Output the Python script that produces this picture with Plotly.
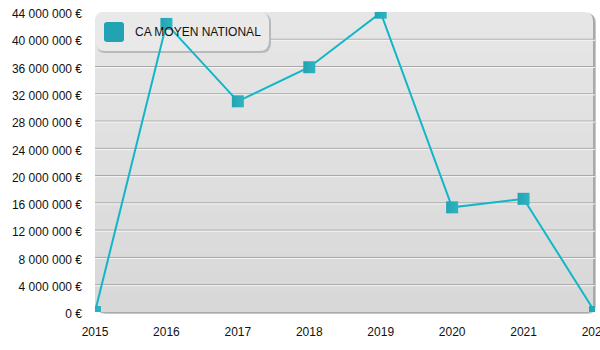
import plotly.graph_objects as go

# Chiffre d'affaires moyen national par année
years = [2015, 2016, 2017, 2018, 2019, 2020, 2021, 2022]
ca_moyen = [0, 42_250_000, 30_900_000, 35_900_000, 43_900_000, 15_350_000, 16_600_000, 0]
series_name = "CA MOYEN NATIONAL"

y_tick_values = [0, 4_000_000, 8_000_000, 12_000_000, 16_000_000, 20_000_000,
                 24_000_000, 28_000_000, 32_000_000, 36_000_000, 40_000_000, 44_000_000]
y_tick_labels = [f"{v:,}".replace(",", " ") + " €" for v in y_tick_values]
x_tick_labels = [str(y) for y in years]

W, H = 600, 350
M_L, M_R, M_T, M_B = 95, 5, 12, 38
PW, PH = W - M_L - M_R, H - M_T - M_B

LINE_COLOR = "#13b6c7"
MARKER_COLOR = "#21a3b3"


def px(x):
    return (x - M_L) / PW


def py(y):
    return (M_T + PH - y) / PH


def rounded_path(x0, y0, x1, y1, r_top, r_bot):
    """Rounded rectangle given in page pixels, returned as a paper-space SVG path."""
    pts = []
    pts.append(f"M {px(x0 + r_top)},{py(y0)}")
    pts.append(f"L {px(x1 - r_top)},{py(y0)}")
    pts.append(f"Q {px(x1)},{py(y0)} {px(x1)},{py(y0 + r_top)}")
    pts.append(f"L {px(x1)},{py(y1 - r_bot)}")
    pts.append(f"Q {px(x1)},{py(y1)} {px(x1 - r_bot)},{py(y1)}")
    pts.append(f"L {px(x0 + r_bot)},{py(y1)}")
    pts.append(f"Q {px(x0)},{py(y1)} {px(x0)},{py(y1 - r_bot)}")
    pts.append(f"L {px(x0)},{py(y0 + r_top)}")
    pts.append(f"Q {px(x0)},{py(y0)} {px(x0 + r_top)},{py(y0)}")
    pts.append("Z")
    return " ".join(pts)


def mix(c0, c1, t):
    return "#" + "".join(f"{round(a + (b - a) * t):02x}" for a, b in zip(c0, c1))


shapes = []

# plot area: soft drop shadow then a vertical grey gradient with rounded corners
x0, y0, x1, y1 = M_L, M_T, M_L + PW - 2, M_T + PH
R = 9
shapes.append(dict(type="path", xref="paper", yref="paper", layer="below",
                   path=rounded_path(x0 + 2, y0 + 2, x1 + 3, y1 + 2, R, R),
                   fillcolor="#c8c8c8", line=dict(width=0)))
shapes.append(dict(type="path", xref="paper", yref="paper", layer="below",
                   path=rounded_path(x0 + 1, y0 + 1, x1 + 2, y1 + 1, R, R),
                   fillcolor="#a9a9a9", line=dict(width=0)))
top_c, bot_c = (0xe6, 0xe6, 0xe6), (0xd8, 0xd8, 0xd8)
n_steps = 30
for i in range(n_steps):
    ys = y0 + (y1 - y0) * i / n_steps
    shapes.append(dict(type="path", xref="paper", yref="paper", layer="below",
                       path=rounded_path(x0, ys, x1, y1, R if i == 0 else 0, R),
                       fillcolor=mix(top_c, bot_c, i / (n_steps - 1)),
                       line=dict(width=0)))

# embossed grid lines: grey line with a white highlight just below
for v in y_tick_values[1:-1]:
    shapes.append(dict(type="line", xref="paper", yref="y", layer="below",
                       x0=0, x1=1, y0=v, y1=v, line=dict(color="#a3a3a3", width=1)))
    shapes.append(dict(type="line", xref="paper", yref="y", layer="below",
                       ysizemode="pixel", yanchor=v, y0=-1, y1=-1, x0=0, x1=1,
                       line=dict(color="#f6f6f6", width=1)))

# legend box
lx0, ly0, lx1, ly1 = 95, 12, 269, 51
shapes.append(dict(type="path", xref="paper", yref="paper", layer="below",
                   path=rounded_path(lx0 + 1, ly0 + 1, lx1 + 2, ly1 + 2, 10, 10),
                   fillcolor="#b9b9b9", line=dict(width=0)))
shapes.append(dict(type="path", xref="paper", yref="paper", layer="below",
                   path=rounded_path(lx0, ly0, lx1, ly1, 10, 10),
                   fillcolor="#e9e9e9", line=dict(width=0)))
shapes.append(dict(type="path", xref="paper", yref="paper", layer="below",
                   path=rounded_path(104, 22, 124, 42, 3, 3),
                   fillcolor=MARKER_COLOR, line=dict(width=0)))

fig = go.Figure()
fig.add_trace(go.Scatter(
    x=years, y=ca_moyen, mode="lines+markers", name=series_name,
    line=dict(color=LINE_COLOR, width=2),
    marker=dict(symbol="square", size=12, color=MARKER_COLOR,
                gradient=dict(type="horizontal", color="#2fb4c2"),
                line=dict(width=0)),
    cliponaxis=True, showlegend=False, hoverinfo="x+y",
))

fig.update_layout(
    width=W, height=H,
    margin=dict(l=M_L, r=M_R, t=M_T, b=M_B, pad=0, autoexpand=False),
    paper_bgcolor="white",
    plot_bgcolor="rgba(0,0,0,0)",
    font=dict(family="Liberation Sans, Arial, sans-serif", size=12, color="#111111"),
    shapes=shapes,
    showlegend=False,
    annotations=[dict(text=series_name, xref="paper", yref="paper",
                      x=px(133), y=py(32), xanchor="left", yanchor="middle",
                      showarrow=False, font=dict(size=12, color="#111111"))],
)
fig.update_xaxes(range=[years[0], years[-1]], tickvals=years, ticktext=x_tick_labels,
                 showgrid=False, zeroline=False, showline=False, ticks="",
                 ticklabelstandoff=11, ticklabeloverflow="allow", automargin=False)
fig.update_yaxes(range=[0, 44_000_000], tickvals=y_tick_values, ticktext=y_tick_labels,
                 showgrid=False, zeroline=False, showline=False, ticks="",
                 ticklabelstandoff=12, ticklabelshift=2, ticklabeloverflow="allow",
                 automargin=False)

fig.write_html("out.html")
